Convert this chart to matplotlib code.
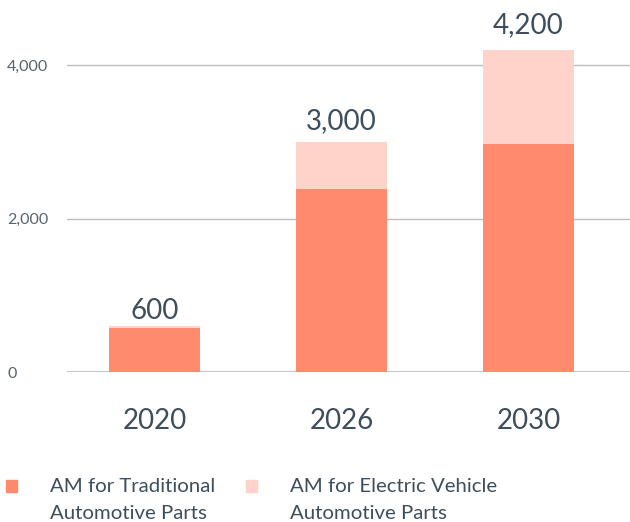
import numpy as np
import matplotlib
matplotlib.use("Agg")
import matplotlib.pyplot as plt
from matplotlib.patches import Rectangle

plt.rcParams['font.family'] = ['Lato', 'DejaVu Sans']

years = ["2020", "2026", "2030"]
traditional = [572, 2385, 2970]
electric = [28, 615, 1230]
totals = [600, 3000, 4200]
total_labels = ["600", "3,000", "4,200"]
series_names = ["AM for Traditional\nAutomotive Parts", "AM for Electric Vehicle\nAutomotive Parts"]
yticks = [0, 2000, 4000]
ytick_labels = ["0", "2,000", "4,000"]

c_trad = "#FF8A6E"
c_ev = "#FFD3C9"
txt = "#3E4E5C"

fig = plt.figure(figsize=(6.3, 5.22), dpi=100)
ax = fig.add_axes([67/630, 150/522, 563/630, 372/522])

x = np.arange(len(years))
w = 0.487
ax.bar(x, traditional, w, color=c_trad, zorder=3)
ax.bar(x, electric, w, bottom=traditional, color=c_ev, zorder=3)

# value labels sit a little above each stack, gap grows with height
for xi, t, lab in zip(x, totals, total_labels):
    ax.text(xi, t * 1.035, lab, ha="center", va="bottom", fontsize=20, color=txt)

ax.set_xlim(-0.468, 2.543)
ax.set_ylim(0, 4847)
ax.set_yticks(yticks)
ax.set_yticklabels(ytick_labels, fontsize=11.5, color="#56636E")
for lab in ax.get_yticklabels():
    lab.set_ha("left")
ax.tick_params(axis="y", length=0, pad=43)
ax.set_xticks(x)
ax.set_xticklabels(years, fontsize=20, color=txt)
ax.tick_params(axis="x", length=0, pad=26)
ax.grid(axis="y", color="#BDBDBD", linewidth=1, zorder=0)
for s in ax.spines.values():
    s.set_visible(False)
ax.axhline(0, color="#BDBDBD", linewidth=1.2, zorder=2)

# legend
cols = [c_trad, c_ev]
lx = [6/630, 246/630]
for i in range(2):
    fig.patches.append(Rectangle((lx[i], 1 - 492/522), 11/630, 12/522,
                                 transform=fig.transFigure, color=cols[i]))
    fig.text(lx[i] + 44/630, 1 - 478/522, series_names[i], fontsize=14.7,
             color=txt, va="top", ha="left", linespacing=1.72)

fig.savefig("out.png", dpi=100)
